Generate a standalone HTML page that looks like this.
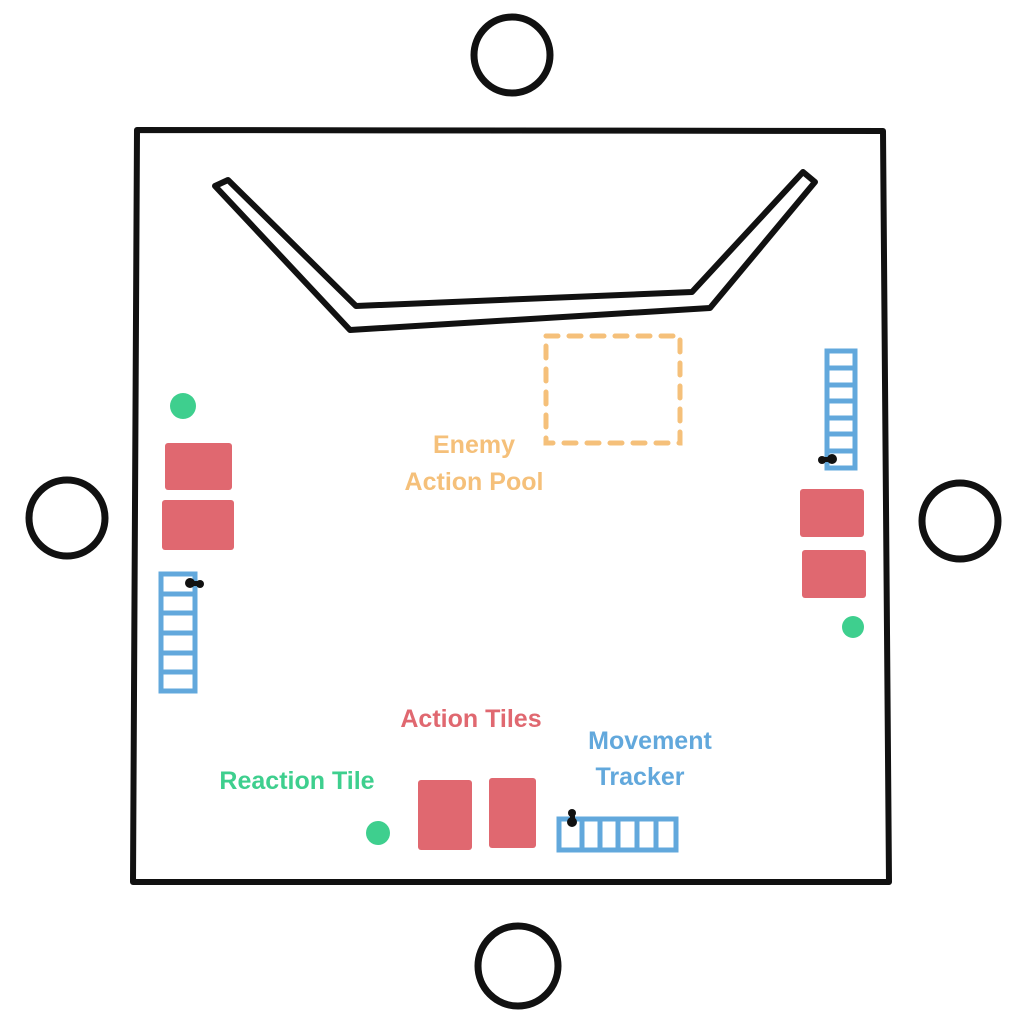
<!DOCTYPE html>
<html><head><style>body{margin:0;background:#fff}svg{display:block}text{font-family:"Liberation Sans",sans-serif;font-size:25px;font-weight:bold}</style></head>
<body>
<svg width="1024" height="1024" viewBox="0 0 1024 1024">
<g fill="none" stroke="#111" stroke-width="6" stroke-linejoin="round" stroke-linecap="round">
<path d="M137,130 L883,131 L889,882 L133,882 Z"/>
<path d="M215,186 L228,180 L356,306 L692,292 L803,172 L815,182 L710,308 L350,330 Z"/>
</g>
<g fill="none" stroke="#111" stroke-width="7">
<circle cx="512" cy="55" r="38"/>
<circle cx="67" cy="518" r="38"/>
<circle cx="960" cy="521" r="38"/>
<circle cx="518" cy="966" r="40"/>
</g>
<rect x="546" y="336" width="134" height="107" fill="none" stroke="#f5c07a" stroke-width="5" stroke-dasharray="12,11" stroke-linecap="round"/>
<g fill="#e06870">
<rect x="165" y="443" width="67" height="47" rx="3"/>
<rect x="162" y="500" width="72" height="50" rx="3"/>
<rect x="800" y="489" width="64" height="48" rx="3"/>
<rect x="802" y="550" width="64" height="48" rx="3"/>
<rect x="418" y="780" width="54" height="70" rx="3"/>
<rect x="489" y="778" width="47" height="70" rx="3"/>
</g>
<g fill="#3ecf8e">
<circle cx="183" cy="406" r="13"/>
<circle cx="853" cy="627" r="11"/>
<circle cx="378" cy="833" r="12"/>
</g>
<g fill="none" stroke="#62a8dc" stroke-width="5">
<rect x="161" y="574" width="34" height="117"/>
<path d="M161,594H195M161,613H195M161,633H195M161,653H195M161,672H195"/>
<rect x="827" y="351" width="28" height="117"/>
<path d="M827,368H855M827,385H855M827,401H855M827,418H855M827,434H855M827,451H855"/>
<rect x="559" y="819" width="117" height="31"/>
<path d="M582,819V850M600,819V850M618,819V850M637,819V850M656,819V850"/>
</g>
<g fill="#111">
<circle cx="190" cy="583" r="5"/><circle cx="200" cy="584" r="4"/><rect x="188" y="581" width="12" height="5"/>
<circle cx="832" cy="459" r="5"/><circle cx="822" cy="460" r="4"/><rect x="822" y="457" width="10" height="5"/>
<circle cx="572" cy="822" r="5"/><circle cx="572" cy="813" r="4"/><rect x="570" y="813" width="5" height="10"/>
</g>
<g text-anchor="middle">
<text x="474" y="453" fill="#f5c07a">Enemy</text>
<text x="474" y="490" fill="#f5c07a">Action Pool</text>
<text x="471" y="727" fill="#e06870">Action Tiles</text>
<text x="650" y="749" fill="#62a8dc">Movement</text>
<text x="640" y="785" fill="#62a8dc">Tracker</text>
<text x="297" y="789" fill="#3ecf8e">Reaction Tile</text>
</g>
</svg>
</body></html>
